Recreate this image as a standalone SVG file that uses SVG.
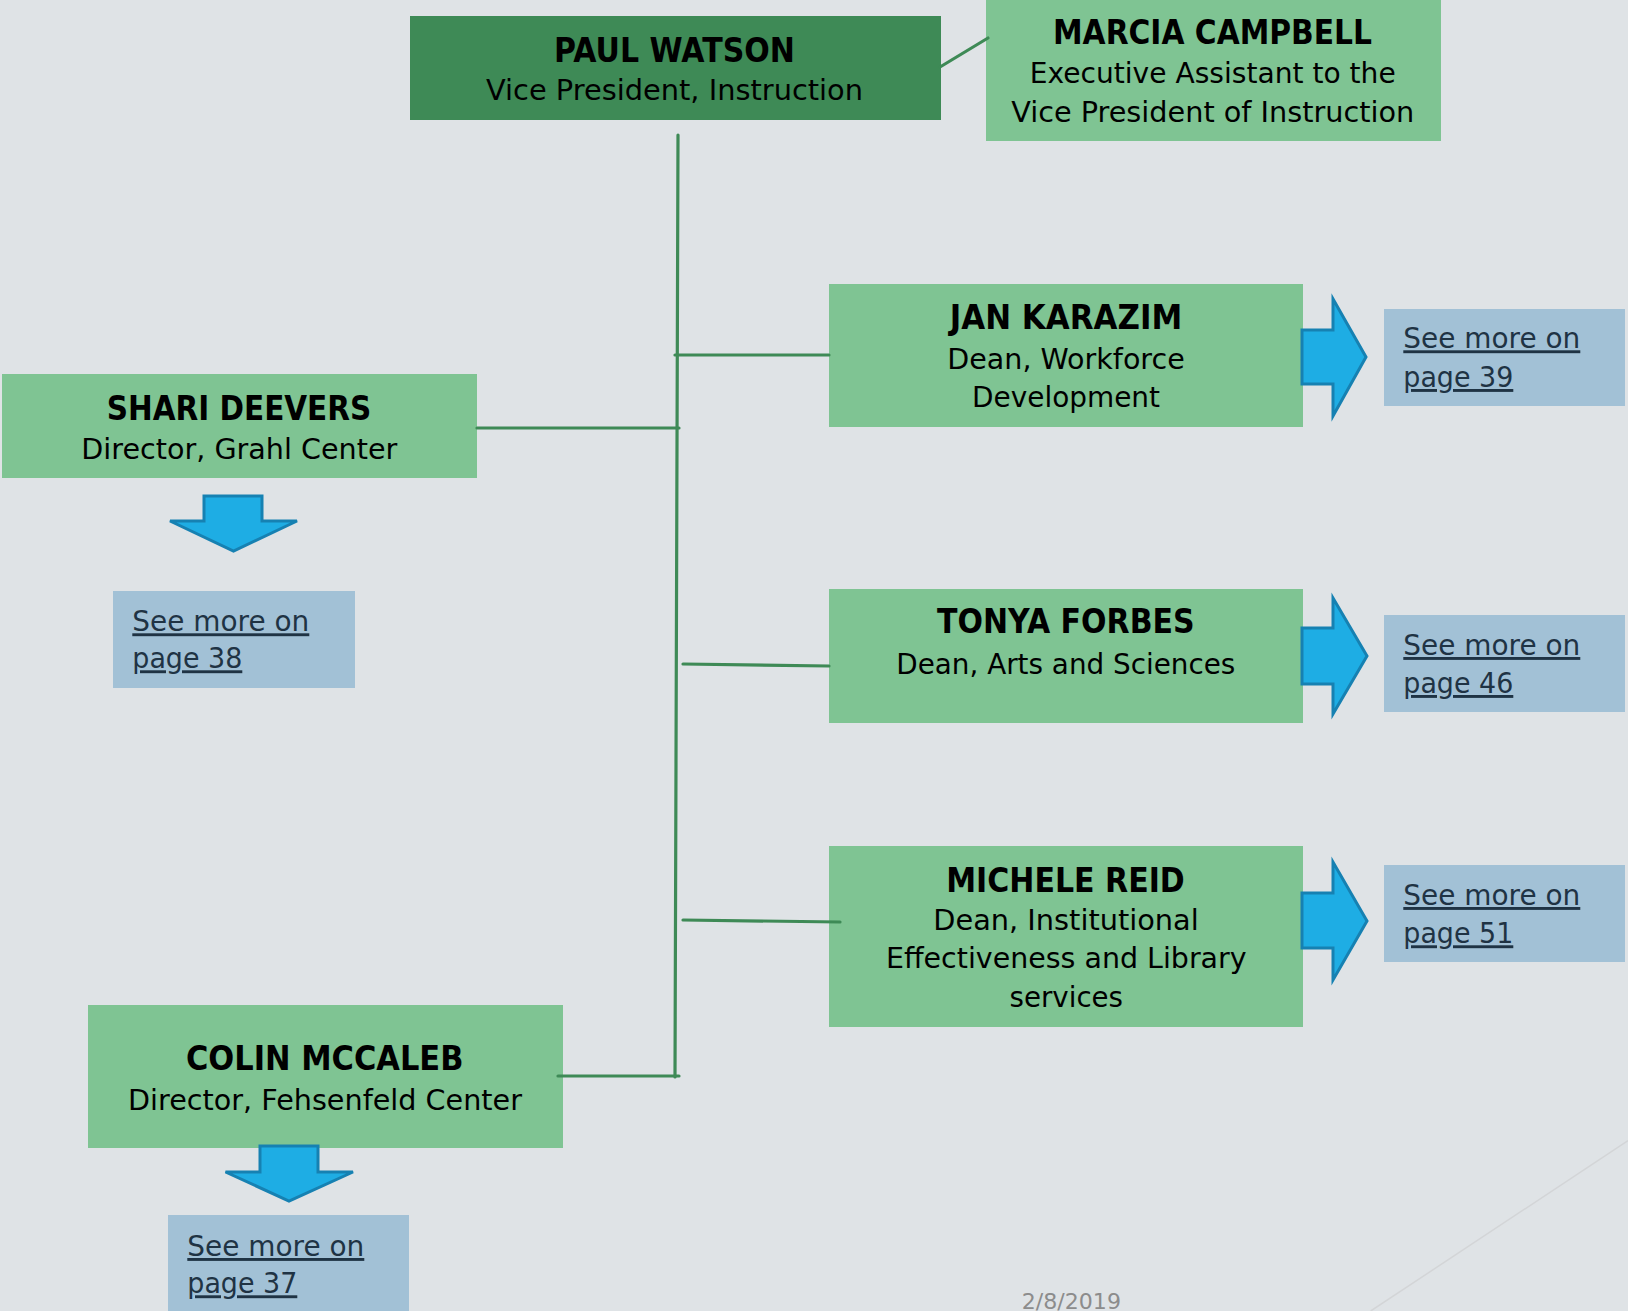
<svg xmlns="http://www.w3.org/2000/svg" width="1628" height="1311" viewBox="0 0 1628 1311">
<style>
.bg{fill:#DFE3E6}
.box{fill:#7FC493}
.boxd{fill:#3E8A56}
.link{fill:#A2C1D6}
.arr{fill:#1EADE4;stroke:#1681B2;stroke-width:3;stroke-linejoin:miter}
.con{stroke:#3E8A56;stroke-width:3.2;stroke-linecap:round;fill:none}
text{font-family:"DejaVu Sans","Liberation Sans",sans-serif;fill:#000}
.nm{font-weight:bold;font-size:34px;text-anchor:middle}
.sb{font-size:28px;text-anchor:middle}
.lk{font-size:29px;fill:#1F3344;text-decoration:underline}
.dt{font-size:22px;fill:#8C8C8C}
</style>
<rect class="bg" x="0" y="0" width="1628" height="1311"/>
<line x1="1628" y1="1140.7" x2="1370.7" y2="1311" stroke="#D3D5D7" stroke-width="1.5"/>
<text class="dt" x="1021.7" y="1309" textLength="99.3" lengthAdjust="spacingAndGlyphs">2/8/2019</text>

<g id="paul">
<rect class="boxd" x="410" y="16" width="531" height="104"/>
<text class="nm" x="674.5" y="61.7" textLength="241" lengthAdjust="spacingAndGlyphs">PAUL WATSON</text>
<text class="sb" x="674.5" y="100" textLength="377" lengthAdjust="spacingAndGlyphs">Vice President, Instruction</text>
</g>
<g id="marcia">
<rect class="box" x="986" y="0" width="455" height="141"/>
<text class="nm" x="1212.5" y="44.3" textLength="319" lengthAdjust="spacingAndGlyphs">MARCIA CAMPBELL</text>
<text class="sb" x="1212.7" y="83.3" textLength="366" lengthAdjust="spacingAndGlyphs">Executive Assistant to the</text>
<text class="sb" x="1212.7" y="121.7" textLength="403" lengthAdjust="spacingAndGlyphs">Vice President of Instruction</text>
</g>
<g id="shari">
<rect class="box" x="2" y="374" width="475" height="104"/>
<text class="nm" x="239" y="420" textLength="264.5" lengthAdjust="spacingAndGlyphs">SHARI DEEVERS</text>
<text class="sb" x="239.3" y="459.3" textLength="316" lengthAdjust="spacingAndGlyphs">Director, Grahl Center</text>
</g>
<g id="jan">
<rect class="box" x="829" y="284" width="474" height="143"/>
<text class="nm" x="1066" y="329.3" textLength="232.4" lengthAdjust="spacingAndGlyphs">JAN KARAZIM</text>
<text class="sb" x="1066" y="369.3" textLength="237.5" lengthAdjust="spacingAndGlyphs">Dean, Workforce</text>
<text class="sb" x="1066" y="407.3" textLength="188" lengthAdjust="spacingAndGlyphs">Development</text>
</g>
<g id="tonya">
<rect class="box" x="829" y="589" width="474" height="134"/>
<text class="nm" x="1065.8" y="633.3" textLength="257.6" lengthAdjust="spacingAndGlyphs">TONYA FORBES</text>
<text class="sb" x="1065.8" y="674" textLength="339" lengthAdjust="spacingAndGlyphs">Dean, Arts and Sciences</text>
</g>
<g id="michele">
<rect class="box" x="829" y="846" width="474" height="181"/>
<text class="nm" x="1065.5" y="891.7" textLength="238.5" lengthAdjust="spacingAndGlyphs">MICHELE REID</text>
<text class="sb" x="1066" y="930" textLength="265.4" lengthAdjust="spacingAndGlyphs">Dean, Institutional</text>
<text class="sb" x="1066.3" y="968.3" textLength="360.7" lengthAdjust="spacingAndGlyphs">Effectiveness and Library</text>
<text class="sb" x="1066.3" y="1006.7" textLength="113.4" lengthAdjust="spacingAndGlyphs">services</text>
</g>
<g id="colin">
<rect class="box" x="88" y="1005" width="475" height="143"/>
<text class="nm" x="324.7" y="1070" textLength="277.5" lengthAdjust="spacingAndGlyphs">COLIN MCCALEB</text>
<text class="sb" x="325" y="1110" textLength="394" lengthAdjust="spacingAndGlyphs">Director, Fehsenfeld Center</text>
</g>

<g id="more38">
<rect class="link" x="113" y="591" width="242" height="97"/>
<text class="lk" x="132.3" y="631.3" textLength="177" lengthAdjust="spacingAndGlyphs">See more on</text>
<text class="lk" x="132.3" y="668.3" textLength="110" lengthAdjust="spacingAndGlyphs">page 38</text>
</g>
<g id="more39">
<rect class="link" x="1384" y="309" width="241" height="97"/>
<text class="lk" x="1403.3" y="348.3" textLength="177" lengthAdjust="spacingAndGlyphs">See more on</text>
<text class="lk" x="1403.3" y="387" textLength="110" lengthAdjust="spacingAndGlyphs">page 39</text>
</g>
<g id="more46">
<rect class="link" x="1384" y="615" width="241" height="97"/>
<text class="lk" x="1403.3" y="655" textLength="177" lengthAdjust="spacingAndGlyphs">See more on</text>
<text class="lk" x="1403.3" y="693" textLength="110" lengthAdjust="spacingAndGlyphs">page 46</text>
</g>
<g id="more51">
<rect class="link" x="1384" y="865" width="241" height="97"/>
<text class="lk" x="1403.3" y="905" textLength="177" lengthAdjust="spacingAndGlyphs">See more on</text>
<text class="lk" x="1403.3" y="943.3" textLength="110" lengthAdjust="spacingAndGlyphs">page 51</text>
</g>
<g id="more37">
<rect class="link" x="168" y="1215" width="241" height="100"/>
<text class="lk" x="187.3" y="1256" textLength="177" lengthAdjust="spacingAndGlyphs">See more on</text>
<text class="lk" x="187.3" y="1293.3" textLength="110" lengthAdjust="spacingAndGlyphs">page 37</text>
</g>

<g id="arrows">
<polygon class="arr" points="1302,330 1333,330 1333,299 1366,357 1333,416 1333,384 1302,384"/>
<polygon class="arr" points="1302,628 1333,628 1333,598 1367,656 1333,714 1333,684 1302,684"/>
<polygon class="arr" points="1302,893 1333,893 1333,862 1367,921 1333,980 1333,948 1302,948"/>
<polygon class="arr" points="204,496 262,496 262,521 297,521 233.5,551 170,521 204,521"/>
<polygon class="arr" points="260,1146 318,1146 318,1172 353,1172 289,1201 225.5,1172 260,1172"/>
</g>

<g id="connectors">
<line class="con" x1="678" y1="135" x2="675" y2="1077"/>
<line class="con" x1="675" y1="355" x2="829" y2="355"/>
<line class="con" x1="477" y1="428" x2="679" y2="428"/>
<line class="con" x1="683" y1="664" x2="829" y2="666"/>
<line class="con" x1="683" y1="920" x2="840" y2="922"/>
<line class="con" x1="558" y1="1076" x2="679" y2="1076"/>
<line class="con" x1="940" y1="67" x2="988" y2="38"/>
</g>
</svg>
